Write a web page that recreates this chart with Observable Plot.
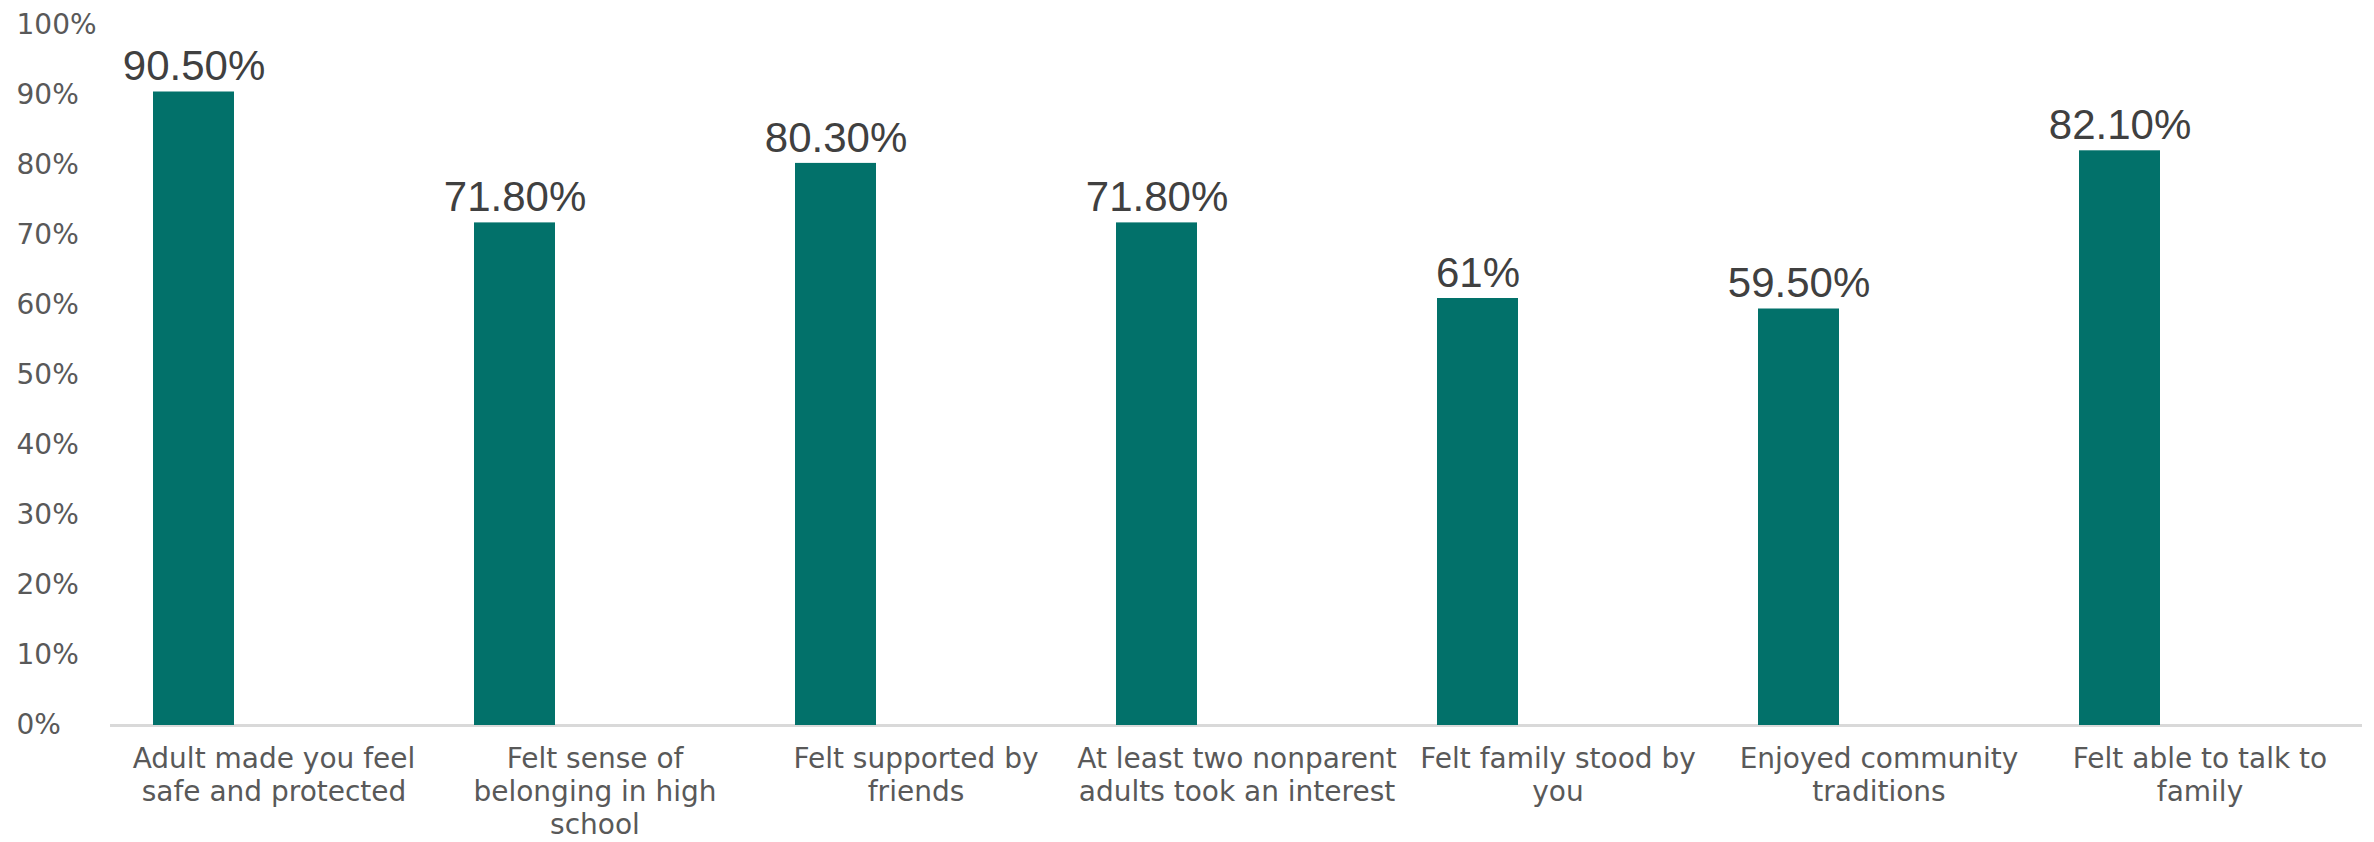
<!DOCTYPE html>
<html>
<head>
<meta charset="utf-8">
<script src="https://cdn.jsdelivr.net/npm/d3@7"></script>
<script src="https://cdn.jsdelivr.net/npm/@observablehq/plot@0.6"></script>
<style>
  html, body { margin: 0; padding: 0; background: #ffffff; }
  #chart { width: 2374px; height: 842px; overflow: hidden; }
</style>
</head>
<body>
<div id="chart"></div>
<script>
const categories = [
  "Adult made you feel safe and protected",
  "Felt sense of belonging in high school",
  "Felt supported by friends",
  "At least two nonparent adults took an interest",
  "Felt family stood by you",
  "Enjoyed community traditions",
  "Felt able to talk to family"
];
const tickLabels = [
  "Adult made you feel\nsafe and protected",
  "Felt sense of\nbelonging in high\nschool",
  "Felt supported by\nfriends",
  "At least two nonparent\nadults took an interest",
  "Felt family stood by\nyou",
  "Enjoyed community\ntraditions",
  "Felt able to talk to\nfamily"
];
const values = [90.5, 71.8, 80.3, 71.8, 61, 59.5, 82.1];
const valueLabels = ["90.50%", "71.80%", "80.30%", "71.80%", "61%", "59.50%", "82.10%"];
const yTicks = [0, 10, 20, 30, 40, 50, 60, 70, 80, 90, 100];

const data = categories.map((c, i) => ({cat: c, value: values[i], label: valueLabels[i]}));

const chart = Plot.plot({
  width: 2374,
  height: 842,
  marginLeft: 110,
  marginRight: 12,
  marginTop: 25,
  marginBottom: 117,
  style: {fontFamily: "DejaVu Sans", fontSize: "28px", color: "#595959", background: "#ffffff"},
  x: {domain: categories, padding: 0, axis: null},
  y: {domain: [0, 100], axis: null},
  marks: [
    Plot.ruleY([0], {stroke: "#d9d9d9", strokeWidth: 3}),
    Plot.barY(data, {x: "cat", y: "value", fill: "#02716a", insetLeft: 40, insetRight: 200}),
    Plot.text(data, {x: "cat", y: "value", text: "label", dx: -80, dy: -25, fontSize: 42,
      fontFamily: "Liberation Sans, Arial, sans-serif", fill: "#404040"}),
    Plot.axisY({ticks: yTicks, tickFormat: d => d + "%", tickSize: 0, tickPadding: 94,
      textAnchor: "start", fontSize: 28, fill: "#595959", label: null}),
    Plot.axisX({tickSize: 0, tickPadding: 19, lineHeight: 1.18, label: null,
      tickFormat: d => tickLabels[categories.indexOf(d)], fontSize: 28, fill: "#595959"})
  ]
});
document.getElementById("chart").appendChild(chart);
</script>
</body>
</html>
